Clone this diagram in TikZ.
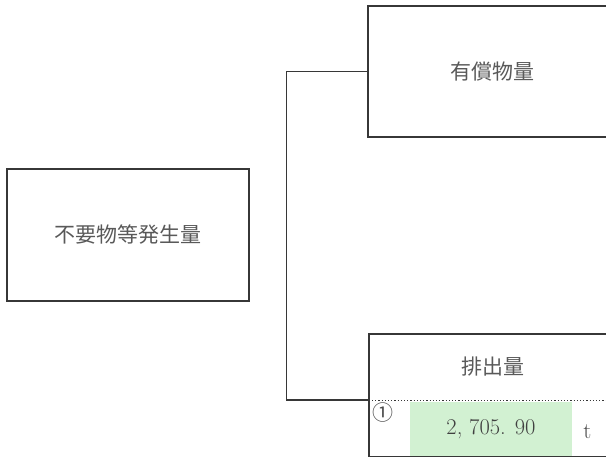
\documentclass[tikz,border=0pt]{standalone}
\usepackage{fontspec}
\newfontfamily\cjk{Noto Sans CJK JP}
\usetikzlibrary{positioning}
\definecolor{boxline}{RGB}{55,55,55}
\definecolor{valgreen}{RGB}{210,241,210}
\tikzset{
    %Define standard line
    linie/.style={
           draw=boxline,
           line width=1.5pt},
    %Define style for boxes
    kasten/.style={
           rectangle,
           linie,
           text=black!65,
           font=\cjk\fontsize{21}{24}\selectfont,
           inner sep=0pt},
    %Define style for cells without frame
    zelle/.style={
           rectangle,
           text=black!65,
           font=\cjk\fontsize{21}{24}\selectfont,
           inner sep=0pt},
    % value cell
    wert/.style={
           rectangle,
           fill=valgreen,
           text=black!75,
           font=\fontsize{22.5}{24}\selectfont,
           inner sep=0pt},
}
\begin{document}
\begin{tikzpicture}[x=1pt, y=-1pt]
\useasboundingbox (0,0) rectangle (606,468);
\clip (0,0) rectangle (606,468);

%generation
\node[kasten, minimum width=242pt, minimum height=132pt] (gen) at (128,235) {不要物等発生量};

%paid goods, top right
\node[kasten, minimum width=248pt, minimum height=131pt] (paid) at (492,71.5) {有償物量};

%emission, bottom right
\node[zelle, minimum width=248pt, minimum height=66pt] (emit) at (493,367) {排出量};
\node[zelle, minimum width=248pt, minimum height=56pt, below=0pt of emit] (row) {};
\draw[linie] (emit.north east) -- (emit.north west) -- (row.south west) -- (row.south east);

%value row
\node[wert, minimum width=162pt, minimum height=54pt] (val) at (491,429) {\raisebox{-4pt}{2, 705. 90}};
\node[font=\cjk\fontsize{21}{24}\selectfont, text=black!70, inner sep=0pt] (nr) at (383,413) {①};
\node[font=\fontsize{22.5}{24}\selectfont, text=black!70, inner sep=0pt, right=11pt of val, yshift=-3pt] (unit) {t};
\draw[linie, line width=1.2pt, dotted] (emit.south west) -- (emit.south east);

%bracket
\draw[linie] (paid.west) -- ++(-81,0) |- (emit.south west);

\end{tikzpicture}
\end{document}
